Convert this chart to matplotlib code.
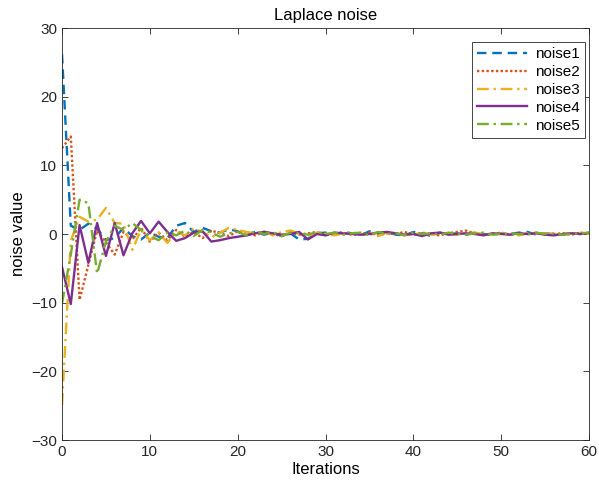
import matplotlib
matplotlib.use("Agg")
import matplotlib.pyplot as plt

plt.rcParams['font.family'] = ['Liberation Sans', 'DejaVu Sans']

noise1 = [26.2, 1.2, 0.6, 1.5, 0.8, -0.9, -0.6, 0.9, -0.3, -0.8,
          0.2, -0.4, -0.6, 1.2, 1.6, 0.3, 0.9, 0.4, 0.2, 0.7,
          0.4, -0.2, 0.3, -0.1, 0.2, -0.3, 0.1, -0.8, -0.7, 0.1,
          0.2, -0.1, 0.3, 0.1, -0.2, 0.4, 0.1, 0.3, -0.1, -0.2,
          0.3, 0.1, -0.3, 0.2, 0.0, 0.1, -0.1, 0.2, 0.0, -0.1,
          0.1, 0.0, 0.2, 0.3, -0.1, 0.1, 0.0, -0.1, 0.1, 0.0,
          0.1]
noise2 = [12.5, 14.2, -9.6, -4.5, 0.5, -1.2, -3.0, 0.3, -0.8, 0.9,
          -1.1, 0.2, -0.9, 0.6, -0.4, 0.3, -0.6, 0.5, 0.1, -0.3,
          0.4, 0.2, -0.2, 0.3, 0.0, -0.3, 0.2, -0.1, 0.1, 0.3,
          -0.2, 0.1, 0.2, -0.1, 0.0, 0.2, -0.2, 0.1, 0.0, 0.3,
          -0.1, 0.2, 0.0, -0.2, 0.1, 0.3, 0.5, 0.1, -0.1, 0.0,
          0.2, -0.1, 0.1, 0.0, 0.2, -0.1, 0.0, 0.1, -0.1, 0.2,
          0.0]
noise3 = [-24.9, -1.0, 2.5, 1.8, 2.1, 3.8, 1.6, 1.5, -2.3, 0.6,
          -0.9, 0.2, -1.3, 0.4, -0.2, 0.8, 0.3, -0.5, 0.2, 0.9,
          0.6, 0.3, 0.1, 0.4, -0.2, 0.3, 0.5, 0.1, -0.3, 0.2,
          0.0, -0.2, 0.1, 0.3, -0.1, 0.0, -0.3, 0.2, 0.1, -0.2,
          0.0, 0.1, -0.1, 0.2, 0.0, -0.1, 0.1, 0.2, 0.0, -0.1,
          0.1, 0.0, -0.2, 0.1, 0.0, 0.1, -0.1, 0.0, 0.1, 0.2,
          0.0]
noise4 = [-4.8, -10.2, 1.3, -4.2, 1.6, -3.2, 1.6, -3.1, 0.1, 1.9,
          0.1, 1.8, 0.3, -1.0, -0.6, 0.2, 0.4, -1.1, -0.9, -0.6,
          -0.4, -0.2, 0.1, 0.3, 0.1, -0.1, 0.0, 0.3, -0.8, 0.0,
          -0.2, 0.2, 0.1, 0.0, -0.1, 0.0, 0.2, 0.3, 0.1, -0.1,
          0.0, -0.3, 0.1, 0.2, -0.1, 0.0, 0.1, 0.0, -0.2, 0.1,
          0.0, -0.1, 0.1, 0.0, 0.1, -0.1, -0.2, 0.0, 0.1, 0.0,
          0.2]
noise5 = [-10.1, -3.0, 5.0, 4.5, -5.8, -1.1, 1.2, 0.6, 1.6, 0.6,
          -0.3, -0.9, 0.2, -0.2, 0.5, -0.3, 0.6, 0.2, -0.4, 0.1,
          0.3, -0.2, 0.4, 0.0, 0.3, -0.3, 0.2, 0.1, -0.1, 0.3,
          0.0, 0.2, -0.1, 0.1, 0.2, -0.2, 0.3, 0.0, 0.1, -0.2,
          0.2, 0.0, 0.1, -0.1, 0.2, 0.0, -0.1, 0.1, 0.2, -0.1,
          0.0, 0.1, 0.0, -0.1, 0.2, 0.0, 0.1, -0.1, 0.0, 0.1,
          0.2]

series = [noise1, noise2, noise3, noise4, noise5]
labels = ['noise1', 'noise2', 'noise3', 'noise4', 'noise5']
colors = ['#0072BD', '#D95319', '#EDB120', '#7E2F8E', '#77AC30']
styles = [(0, (4, 2.5)), (0, (1, 1)), (0, (5, 2, 1, 2)), '-', (0, (5, 2, 1, 2))]
xticks = [0, 10, 20, 30, 40, 50, 60]
yticks = [-30, -20, -10, 0, 10, 20, 30]

fig = plt.figure(figsize=(5.99, 4.97), dpi=100)
ax = fig.add_axes([62/599, 1-440/497, (589-62)/599, (440-28)/497])

for s, lab, c, ls in zip(series, labels, colors, styles):
    ax.plot(range(len(s)), s, color=c, linestyle=ls, linewidth=1.7, label=lab)

ax.set_xlim(0, 60)
ax.set_ylim(-30, 30)
ax.set_xticks(xticks)
ax.set_yticks(yticks)
ax.tick_params(direction='in', top=True, right=True, labelsize=11,
               colors='#262626', length=4, width=0.6)
for sp in ax.spines.values():
    sp.set_color('#262626')
    sp.set_linewidth(0.6)

ax.set_title('Laplace noise', fontsize=12, pad=6)
ax.set_xlabel('Iterations', fontsize=12, labelpad=2)
ax.set_ylabel('noise value', fontsize=12, labelpad=4)

leg = ax.legend(loc='upper right', bbox_to_anchor=((585-62)/527, 1-14/412),
                borderaxespad=0, fontsize=11,
                fancybox=False, framealpha=1, edgecolor='#262626',
                handlelength=3.3, borderpad=0.35, labelspacing=0.25,
                handletextpad=0.5)
leg.get_frame().set_linewidth(0.6)

fig.savefig('out.png', dpi=100)
